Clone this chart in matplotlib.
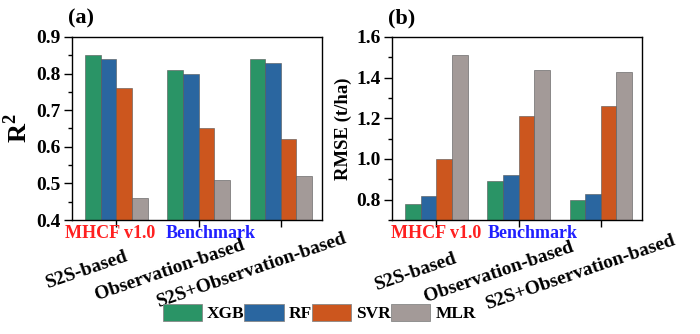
import matplotlib.pyplot as plt
import numpy as np
from matplotlib.patches import Patch

# Model scores per input configuration
configs = ["S2S-based", "Observation-based", "S2S+Observation-based"]
models = ["XGB", "RF", "SVR", "MLR"]
colors = ["#2A9466", "#2A66A0", "#CC561E", "#A39A98"]

r2 = {
    "XGB": [0.85, 0.81, 0.84],
    "RF": [0.84, 0.80, 0.83],
    "SVR": [0.76, 0.65, 0.62],
    "MLR": [0.46, 0.51, 0.52],
}
rmse = {
    "XGB": [0.78, 0.89, 0.80],
    "RF": [0.82, 0.92, 0.83],
    "SVR": [1.00, 1.21, 1.26],
    "MLR": [1.51, 1.44, 1.43],
}

plt.rcParams["font.family"] = ["Liberation Serif", "DejaVu Serif"]
plt.rcParams["font.weight"] = "bold"
plt.rcParams["axes.labelweight"] = "bold"
plt.rcParams["mathtext.fontset"] = "custom"
plt.rcParams["mathtext.bf"] = "Liberation Serif:bold"
plt.rcParams["mathtext.rm"] = "Liberation Serif:bold"

fig = plt.figure(figsize=(7, 3.34), dpi=100)
ax1 = fig.add_axes([0.1029, 0.3413, 0.357, 0.548])
ax2 = fig.add_axes([0.56, 0.3413, 0.357, 0.548])

x = np.arange(len(configs))
width = 0.19


def draw_panel(ax, data, ylim, yticks, minor, ylabel, ylabel_size, tag,
               lab_dx, lab_dy, bench_dx, mhcf_dx):
    for k, m in enumerate(models):
        ax.bar(x + (k - 1.5) * width, data[m], width, color=colors[k],
               edgecolor="#555555", linewidth=0.4)
    ax.set_xlim(-0.54, 2.5)
    ax.set_ylim(*ylim)
    ax.set_yticks(yticks)
    ax.yaxis.set_minor_locator(plt.MultipleLocator(minor))
    ax.yaxis.set_major_formatter(plt.FormatStrFormatter("%.1f"))
    ax.set_xticks(x)
    ax.set_xticklabels([])
    ax.tick_params(axis="y", which="major", length=6, width=1, labelsize=14,
                   direction="out", pad=2)
    ax.tick_params(axis="y", which="minor", length=3, width=1, direction="out")
    ax.tick_params(axis="x", length=5, width=1, direction="out")
    for s in ax.spines.values():
        s.set_linewidth(1)
    ax.set_ylabel(ylabel, fontsize=ylabel_size, labelpad=3)
    ax.text(-0.016, 1.045, tag, transform=ax.transAxes, fontsize=16,
            fontweight="bold", ha="left", va="bottom")

    # Rotated configuration labels below the axis
    for i, c in enumerate(configs):
        ax.annotate(c, xy=(x[i], 0), xycoords=("data", "axes fraction"),
                    xytext=(lab_dx, lab_dy), textcoords="offset pixels",
                    rotation=19, ha="center", va="center", fontsize=14,
                    fontweight="bold", annotation_clip=False)

    ax.annotate("MHCF v1.0", xy=(x[0], 0), xycoords=("data", "axes fraction"),
                xytext=(mhcf_dx, -13), textcoords="offset pixels", ha="center",
                va="center", fontsize=13, fontweight="bold", color="#FF2020",
                annotation_clip=False)
    ax.annotate("Benchmark", xy=(x[1], 0), xycoords=("data", "axes fraction"),
                xytext=(bench_dx, -13), textcoords="offset pixels", ha="center",
                va="center", fontsize=13, fontweight="bold", color="#2020FF",
                annotation_clip=False)


draw_panel(ax1, r2, (0.4, 0.9), [0.4, 0.5, 0.6, 0.7, 0.8, 0.9], 0.05,
           "R$^\\mathbf{2}$", 19, "(a)", -29, -50, 12, -6)
draw_panel(ax2, rmse, (0.7, 1.6), [0.8, 1.0, 1.2, 1.4, 1.6], 0.1,
           "RMSE (t/ha)", 13.5, "(b)", -20, -52, 14, 0)

handles = [Patch(facecolor=c, edgecolor="#888888", linewidth=0.6) for c in colors]
fig.legend(handles, models, loc="center", bbox_to_anchor=(0.456, 0.063), ncol=4,
           frameon=False, handlelength=2.25, handleheight=1.15,
           handletextpad=0.3, columnspacing=0.0, borderpad=0,
           prop={"weight": "bold", "size": 12.5})

fig.savefig("out.png", dpi=100)
